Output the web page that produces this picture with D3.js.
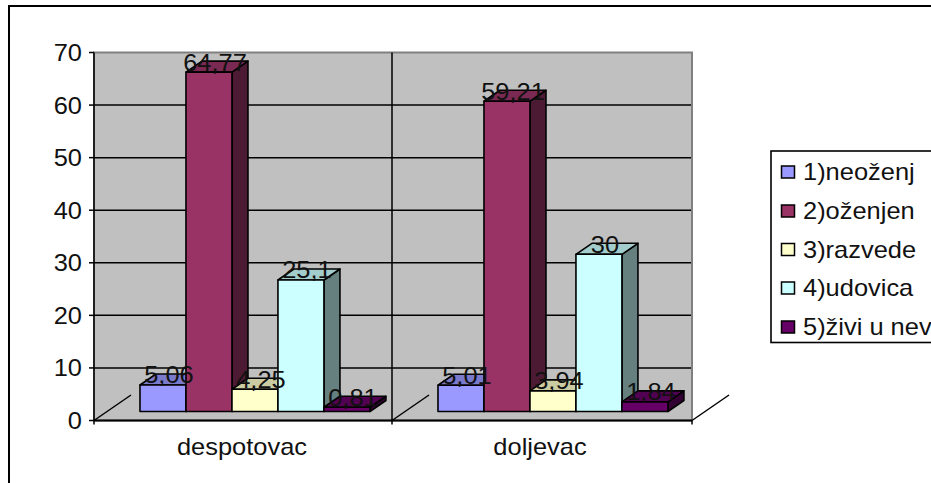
<!DOCTYPE html>
<html>
<head>
<meta charset="utf-8">
<script src="https://cdn.jsdelivr.net/npm/d3@7"></script>
<style>
html,body{margin:0;padding:0;background:#fff;overflow:hidden}
svg{display:block}
text{font-family:"Liberation Sans",Arial,sans-serif;fill:#111}
</style>
</head>
<body>
<svg id="chart" width="931" height="483"></svg>
<script>
// Marital status shares for two municipalities
const categories = ["despotovac", "doljevac"];
const seriesNames = ["1)neoženj", "2)oženjen", "3)razvede", "4)udovica", "5)živi u nev"];
const seriesColors = ["#9999FF", "#993366", "#FFFFCC", "#CCFFFF", "#660066"];
const despotovacValues = [5.06, 64.77, 4.25, 25.1, 0.81];
const doljevacValues = [5.01, 59.21, 3.94, 30, 1.84];
const valueLabelsDespotovac = ["5,06", "64,77", "4,25", "25,1", "0,81"];
const valueLabelsDoljevac = ["5,01", "59,21", "3,94", "30", "1,84"];
const yTicks = [0, 10, 20, 30, 40, 50, 60, 70];

const svg = d3.select("#chart");
const ink = "#000";
const fontSize = 24, stretch = 1.06;

// Text helper with a slight horizontal widening
function label(parent, s, x, y, anchor, size) {
  return parent.append("text")
    .attr("transform", `translate(${x},${y}) scale(${stretch},1)`)
    .attr("text-anchor", anchor || "middle")
    .attr("font-size", size || fontSize)
    .text(s);
}

// Outer frame of the chart area, running past the right and bottom edges
svg.append("rect").attr("x", 9).attr("y", 6).attr("width", 960).attr("height", 520)
  .attr("fill", "#fff").attr("stroke", ink).attr("stroke-width", 2);

const plot = {left: 94, right: 692, top: 52.5, bottom: 420.5};
const y = d3.scaleLinear().domain([0, 70]).range([plot.bottom, plot.top]);
const x0 = d3.scaleBand().domain(categories).range([plot.left, plot.right - 2]);
const inner = d3.scaleBand().domain(d3.range(seriesNames.length))
  .range([x0.bandwidth() / 6.48, x0.bandwidth() / 6.48 * 6]);

// Bars stand forward of the wall, so their baseline sits above the axis line
const depthX = 16, depthY = -11;
const barY = d3.scaleLinear().domain([0, 70]).range([411.5, 411.5 - 70 * 5.24]);

// Back wall
svg.append("rect").attr("x", plot.left).attr("y", plot.top)
  .attr("width", plot.right - plot.left).attr("height", plot.bottom - plot.top)
  .attr("fill", "#C0C0C0").attr("stroke", "#808080").attr("stroke-width", 2);

// Horizontal grid
svg.append("g").selectAll("line").data(yTicks.filter(d => d > 0 && d < 70)).join("line")
  .attr("x1", plot.left).attr("x2", plot.right - 1)
  .attr("y1", d => y(d)).attr("y2", d => y(d))
  .attr("stroke", ink).attr("stroke-width", 1.5);

// Category dividers, with a tick under the axis
const dividers = [plot.left, x0(categories[1]), plot.right];
svg.append("g").selectAll("line").data(dividers.slice(0, 2)).join("line")
  .attr("x1", d => d).attr("x2", d => d)
  .attr("y1", plot.top).attr("y2", plot.bottom + 4)
  .attr("stroke", ink).attr("stroke-width", 1.5);
svg.append("line").attr("x1", plot.right).attr("x2", plot.right)
  .attr("y1", plot.bottom).attr("y2", plot.bottom + 4)
  .attr("stroke", ink).attr("stroke-width", 1.5);

// Floor edges receding from the axis line
svg.append("g").selectAll("line").data(dividers).join("line")
  .attr("x1", d => d).attr("y1", plot.bottom)
  .attr("x2", d => d + 37).attr("y2", plot.bottom - 25.5)
  .attr("stroke", ink).attr("stroke-width", 1.5);

// Value axis
svg.append("line").attr("x1", plot.left).attr("x2", plot.right)
  .attr("y1", plot.bottom).attr("y2", plot.bottom)
  .attr("stroke", ink).attr("stroke-width", 2);
svg.append("g").selectAll("line").data(yTicks).join("line")
  .attr("x1", plot.left - 5).attr("x2", plot.left)
  .attr("y1", d => y(d)).attr("y2", d => y(d))
  .attr("stroke", ink).attr("stroke-width", 1.5);
yTicks.forEach(t => label(svg, String(t), 82, y(t) + 8.5, "end"));
categories.forEach(c => label(svg, c, x0(c) + x0.bandwidth() / 2 - 1, 455));

// Shade a series colour for the top and side faces of a bar
const shade = (c, k) => { const r = d3.rgb(c); return d3.rgb(r.r * k, r.g * k, r.b * k).formatHex(); };
const allValues = [despotovacValues, doljevacValues];
const allLabels = [valueLabelsDespotovac, valueLabelsDoljevac];
const bars = svg.append("g").attr("stroke", ink).attr("stroke-width", 1.6).attr("stroke-linejoin", "round");
categories.forEach((c, ci) => {
  allValues[ci].forEach((v, si) => {
    const xa = x0(c) + inner(si), xb = xa + inner.bandwidth();
    const yt = barY(v), yb = barY(0);
    const poly = pts => pts.map(p => p.join(",")).join(" ");
    const g = bars.append("g");
    g.append("polygon").attr("fill", shade(seriesColors[si], 0.5))
      .attr("points", poly([[xb, yb], [xb + depthX, yb + depthY], [xb + depthX, yt + depthY], [xb, yt]]));
    g.append("polygon").attr("fill", shade(seriesColors[si], 0.8))
      .attr("points", poly([[xa, yt], [xa + depthX, yt + depthY], [xb + depthX, yt + depthY], [xb, yt]]));
    g.append("rect").attr("x", xa).attr("y", yt).attr("width", xb - xa).attr("height", yb - yt)
      .attr("fill", seriesColors[si]);
  });
});

// Value labels sit over the top face of each bar
categories.forEach((c, ci) => {
  allValues[ci].forEach((v, si) => {
    const cx = x0(c) + inner(si) + inner.bandwidth() / 2 + 6;
    label(svg, allLabels[ci][si], cx, barY(v) - 1.5, "middle");
  });
});

// Legend, cut off by the right edge
const legendRows = [172, 211, 249.5, 288, 327];
svg.append("rect").attr("x", 771).attr("y", 151).attr("width", 200).attr("height", 191.5)
  .attr("fill", "#fff").attr("stroke", ink).attr("stroke-width", 1.6);
seriesNames.forEach((n, i) => {
  svg.append("rect").attr("x", 781.5).attr("y", legendRows[i] - 6).attr("width", 13).attr("height", 12)
    .attr("fill", seriesColors[i]).attr("stroke", ink).attr("stroke-width", 1.5);
  label(svg, n, 803, legendRows[i] + 8, "start");
});
</script>
</body>
</html>
